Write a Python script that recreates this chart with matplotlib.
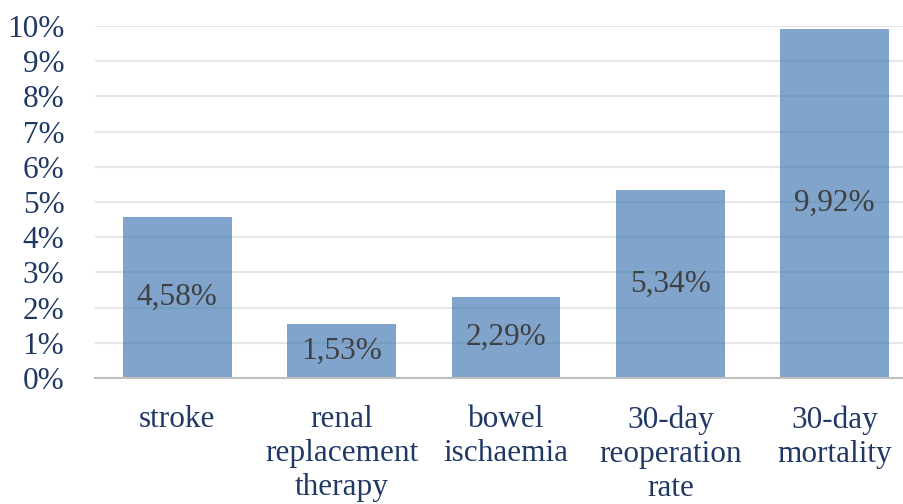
import matplotlib.pyplot as plt
import numpy as np

categories = ["stroke", "renal\nreplacement\ntherapy", "bowel\nischaemia",
              "30-day\nreoperation\nrate", "30-day\nmortality"]
values = [4.58, 1.53, 2.29, 5.34, 9.92]
labels = ["4,58%", "1,53%", "2,29%", "5,34%", "9,92%"]
yticks = list(range(0, 11))

plt.rcParams['font.family'] = ['Liberation Serif', 'DejaVu Serif']

fig = plt.figure(figsize=(9.04, 5.04), dpi=100)
# plot area is cut at the right edge in the original
ax = fig.add_axes([95 / 904, 1 - 378 / 504, 822 / 904, 352 / 504])

x = np.arange(len(categories))
ax.bar(x, values, width=0.663, color='#4A7EB5', alpha=0.7, zorder=3)
for xi, v, lab in zip(x, values, labels):
    ax.text(xi, v / 2, lab, ha='center', va='center', fontsize=22.5,
            color='#404040', zorder=4)

ax.set_xlim(-0.5, len(categories) - 0.5)
ax.set_ylim(0, 10)
ax.set_yticks(yticks)
ax.set_yticklabels([f"{t}%" for t in yticks])
ax.set_xticks(x)
ax.set_xticklabels(categories, linespacing=1.23)

ax.tick_params(axis='both', length=0, labelsize=22.5, colors='#1F3864')
ax.tick_params(axis='x', pad=19.5)
ax.tick_params(axis='y', pad=22)
ax.grid(axis='y', color='#E6E6E6', linewidth=1.5, zorder=0)
for s in ['top', 'right', 'left']:
    ax.spines[s].set_visible(False)
ax.spines['bottom'].set_color('#BFBFBF')
ax.spines['bottom'].set_linewidth(1.5)
ax.spines['bottom'].set_zorder(5)

plt.savefig("out.png", dpi=100)
plt.close()
